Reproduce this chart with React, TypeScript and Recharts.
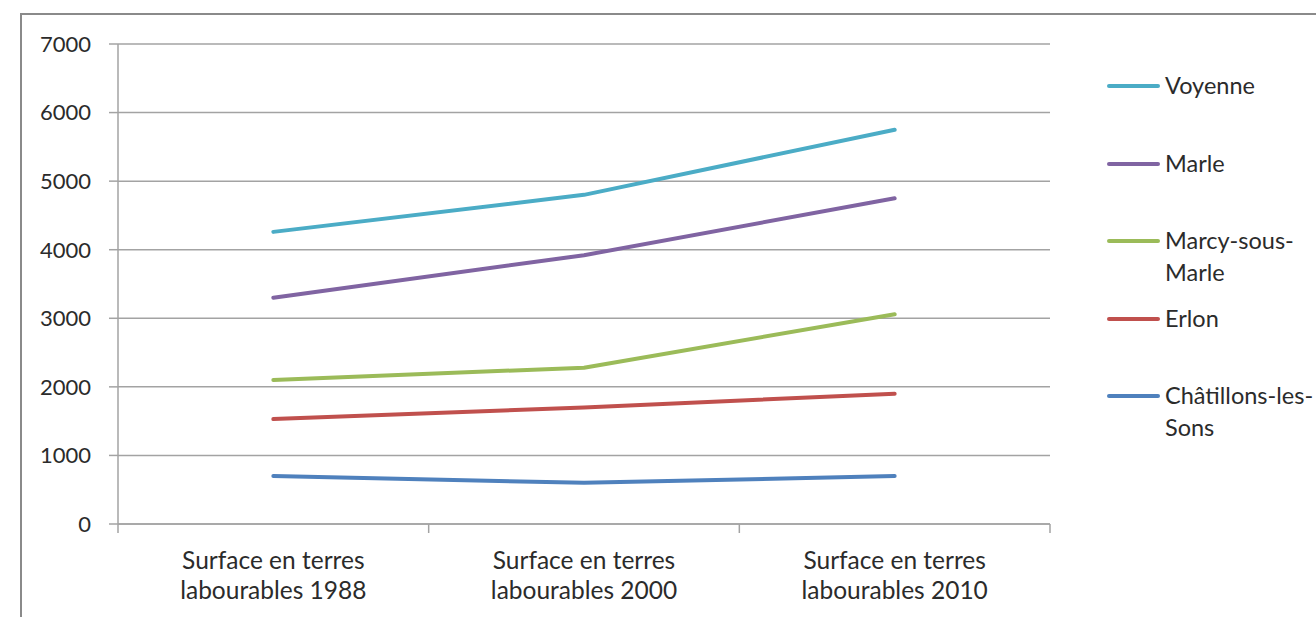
import { CartesianGrid, Line, LineChart, XAxis, YAxis } from "recharts";

const WIDTH = 1316;
const HEIGHT = 617;
const PLOT_LEFT = 118;
const PLOT_RIGHT = 1050;
const PLOT_TOP = 44;
const PLOT_BOTTOM = 524;

const FONT = "Lato, 'Noto Sans', sans-serif";
const TEXT_COLOR = "#2b2b2b";
const GRID_COLOR = "#a3a3a3";

const categories = [
  "Surface en terres labourables 1988",
  "Surface en terres labourables 2000",
  "Surface en terres labourables 2010",
];

const yTicks = [0, 1000, 2000, 3000, 4000, 5000, 6000, 7000];

const voyenne = [4260, 4800, 5750];
const marle = [3300, 3920, 4750];
const marcy = [2100, 2280, 3060];
const erlon = [1530, 1700, 1900];
const chatillons = [700, 600, 700];

const series = [
  { key: "voyenne", name: "Voyenne", color: "#4BACC6", values: voyenne },
  { key: "marle", name: "Marle", color: "#8064A2", values: marle },
  { key: "marcy", name: "Marcy-sous-Marle", color: "#9BBB59", values: marcy },
  { key: "erlon", name: "Erlon", color: "#C0504D", values: erlon },
  { key: "chatillons", name: "Châtillons-les-Sons", color: "#4F81BD", values: chatillons },
];

const data = categories.map((label, i) => {
  const row: Record<string, string | number> = { label };
  series.forEach((s) => {
    row[s.key] = s.values[i];
  });
  return row;
});

// points sit in the middle of each category band
const halfBand = (PLOT_RIGHT - PLOT_LEFT) / categories.length / 2;

// category label on two lines, with tick marks on the band edges
function CategoryTick(props: any) {
  const { x, y, payload, index } = props;
  const words = String(payload.value).split(" ");
  const first = words.slice(0, words.length - 2).join(" ");
  const second = words.slice(words.length - 2).join(" ");
  const top = PLOT_BOTTOM;
  return (
    <g>
      <line x1={x - halfBand} x2={x - halfBand} y1={top} y2={top + 9} stroke={GRID_COLOR} strokeWidth={1.5} />
      {index === categories.length - 1 && (
        <line x1={x + halfBand} x2={x + halfBand} y1={top} y2={top + 9} stroke={GRID_COLOR} strokeWidth={1.5} />
      )}
      <text x={x} y={y + 37} textAnchor="middle" fill={TEXT_COLOR} fontSize={24.5} fontFamily={FONT}>
        <tspan x={x}>{first}</tspan>
        <tspan x={x} dy={30}>{second}</tspan>
      </text>
    </g>
  );
}

function SideLegend() {
  return (
    <div style={{ position: "absolute", left: 1107, top: 69, fontFamily: FONT, fontSize: 23.5, color: TEXT_COLOR }}>
      {series.map((s) => (
        <div key={s.key} style={{ height: 77.5, display: "flex", alignItems: "flex-start" }}>
          <div
            style={{
              width: 53,
              height: 4,
              borderRadius: 2,
              background: s.color,
              marginTop: 15,
              marginRight: 5,
              flexShrink: 0,
            }}
          />
          <div style={{ width: 150, lineHeight: "32px" }}>{s.name}</div>
        </div>
      ))}
    </div>
  );
}

export default function App() {
  return (
    <div
      style={{
        position: "absolute",
        left: 0,
        top: 0,
        width: WIDTH,
        height: HEIGHT,
        overflow: "hidden",
        background: "#fff",
      }}
    >
      <div
        style={{
          position: "absolute",
          left: 20,
          top: 13,
          width: 2000,
          height: 2000,
          border: "2px solid #8a8a8a",
        }}
      />
      <div style={{ position: "absolute", left: 0, top: 0 }}>
        <LineChart
          width={WIDTH}
          height={HEIGHT}
          data={data}
          margin={{ top: PLOT_TOP, right: WIDTH - PLOT_RIGHT, bottom: 0, left: 0 }}
        >
          <CartesianGrid vertical={false} stroke={GRID_COLOR} strokeWidth={1.5} />
          <XAxis
            dataKey="label"
            height={HEIGHT - PLOT_BOTTOM}
            padding={{ left: halfBand, right: halfBand }}
            axisLine={{ stroke: GRID_COLOR, strokeWidth: 1.5 }}
            tickLine={false}
            interval={0}
            tick={<CategoryTick />}
          />
          <YAxis
            width={PLOT_LEFT}
            domain={[0, 7000]}
            ticks={yTicks}
            interval={0}
            axisLine={{ stroke: GRID_COLOR, strokeWidth: 1.5 }}
            tickLine={{ stroke: GRID_COLOR, strokeWidth: 1.5 }}
            tickSize={9}
            tickMargin={18}
            tick={{ fill: TEXT_COLOR, fontSize: 22, fontFamily: FONT }}
          />
          {series.map((s) => (
            <Line
              key={s.key}
              type="linear"
              dataKey={s.key}
              name={s.name}
              stroke={s.color}
              strokeWidth={4}
              strokeLinecap="round"
              strokeLinejoin="round"
              dot={false}
              activeDot={false}
              isAnimationActive={false}
            />
          ))}
        </LineChart>
      </div>
      <SideLegend />
    </div>
  );
}
